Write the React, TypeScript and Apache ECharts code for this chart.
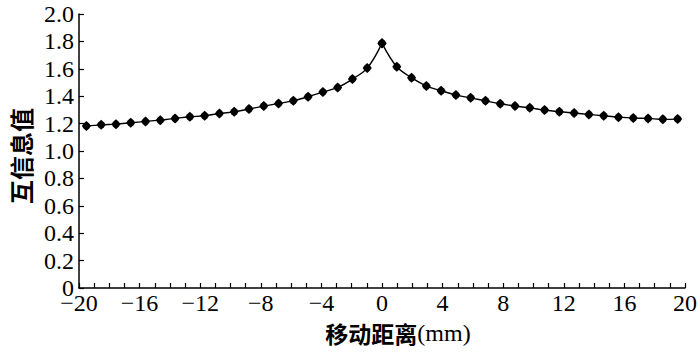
import React, { useEffect, useRef } from "react";
import * as echarts from "echarts";

const distances = [-20, -19, -18, -17, -16, -15, -14, -13, -12, -11, -10, -9, -8, -7, -6, -5, -4, -3, -2, -1, 0, 1, 2, 3, 4, 5, 6, 7, 8, 9, 10, 11, 12, 13, 14, 15, 16, 17, 18, 19, 20];
const mutualInfo = [1.182, 1.191, 1.196, 1.206, 1.216, 1.225, 1.238, 1.25, 1.257, 1.274, 1.286, 1.306, 1.328, 1.347, 1.366, 1.396, 1.43, 1.464, 1.525, 1.605, 1.786, 1.615, 1.535, 1.474, 1.44, 1.408, 1.388, 1.366, 1.345, 1.328, 1.315, 1.299, 1.286, 1.277, 1.267, 1.257, 1.247, 1.24, 1.238, 1.231, 1.233];
const peakIndex = 20;
const xTickLabels = [-20, -16, -12, -8, -4, 0, 4, 8, 12, 16, 20];
const yTickLabels = [0, 0.2, 0.4, 0.6, 0.8, 1.0, 1.2, 1.4, 1.6, 1.8, 2.0];

const markerPath = "path://M5 0 L7.5 2.5 L9 5 L7.5 7.5 L5 10 L2.5 7.5 L1 5 L2.5 2.5 Z";

export default function App() {
  const ref = useRef<HTMLDivElement>(null);
  useEffect(() => {
    if (!ref.current) return;
    const chart = echarts.init(ref.current, null, { renderer: "svg" });
    const pairs = distances.map((d, i) => [d, mutualInfo[i]]);
    const left = pairs.slice(0, peakIndex + 1);
    const right = pairs.slice(peakIndex);
    const serif = "Liberation Serif";
    const cjk = "Noto Sans CJK SC";
    const lineSeries = (data: number[][]) => ({
      type: "line",
      xAxisIndex: 0,
      yAxisIndex: 0,
      data,
      smooth: 0.35,
      symbol: markerPath,
      symbolSize: [9, 10],
      itemStyle: { color: "#000" },
      lineStyle: { color: "#000", width: 1.4 },
      z: 3,
    });
    chart.setOption({
      animation: false,
      backgroundColor: "#fff",
      grid: { left: 79, right: 8, top: 14, bottom: 67 },
      xAxis: [
        {
          type: "value",
          min: distances[0] - 0.5,
          max: distances[distances.length - 1] + 0.5,
          show: false,
        },
        {
          type: "value",
          position: "bottom",
          min: xTickLabels[0],
          max: xTickLabels[xTickLabels.length - 1],
          interval: 4,
          axisLine: { onZero: false, lineStyle: { color: "#000", width: 1.5 } },
          axisTick: { inside: true, length: 5, lineStyle: { color: "#000", width: 1.2 } },
          minorTick: { show: true, splitNumber: 4, length: 5, lineStyle: { color: "#000", width: 1.2 } },
          splitLine: { show: false },
          axisLabel: {
            color: "#000",
            fontFamily: serif,
            fontSize: 24,
            margin: 3,
            formatter: (v: number) => (v < 0 ? "\u2212" + Math.abs(v) : String(v)),
          },
        },
      ],
      yAxis: {
        type: "value",
        min: yTickLabels[0],
        max: yTickLabels[yTickLabels.length - 1],
        interval: 0.2,
        axisLine: { show: true, onZero: false, lineStyle: { color: "#000", width: 1.5 } },
        axisTick: { inside: true, length: 5, lineStyle: { color: "#000", width: 1.2 } },
        splitLine: { show: false },
        axisLabel: {
          color: "#000",
          fontFamily: serif,
          fontSize: 24,
          margin: 5,
          formatter: (v: number) => (v === 0 ? "0" : v.toFixed(1)),
        },
      },
      graphic: [
        {
          type: "text",
          x: 398,
          y: 333,
          style: {
            text: "{a|移动距离}{b|(mm)}",
            align: "center",
            verticalAlign: "middle",
            rich: {
              a: { fontFamily: cjk, fontWeight: "bold", fontSize: 23, fill: "#000" },
              b: { fontFamily: serif, fontSize: 24, fill: "#000" },
            },
          },
        },
        {
          type: "text",
          x: 20,
          y: 156,
          rotation: Math.PI / 2,
          style: {
            text: "互信息值",
            align: "center",
            verticalAlign: "middle",
            fontFamily: cjk,
            fontWeight: "bold",
            fontSize: 24,
            fill: "#000",
          },
        },
      ],
      series: [lineSeries(left), lineSeries(right)],
    });
    return () => chart.dispose();
  }, []);
  return <div ref={ref} style={{ position: "fixed", left: 0, top: 0, width: 700, height: 355 }} />;
}
